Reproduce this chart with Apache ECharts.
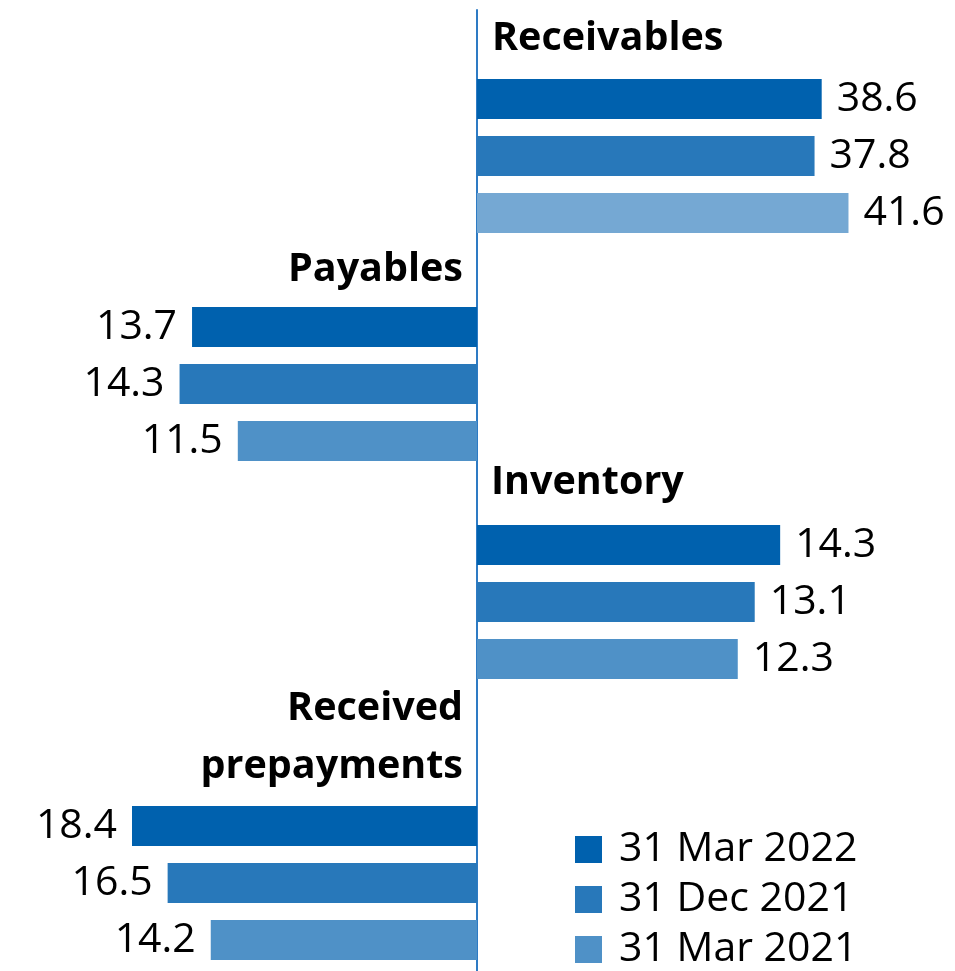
<!DOCTYPE html>
<html>
<head>
<meta charset="utf-8">
<script src="https://cdn.jsdelivr.net/npm/echarts@6/dist/echarts.min.js"></script>
<style>
  html, body { margin: 0; padding: 0; background: #ffffff; }
  #chart { width: 955px; height: 971px; }
</style>
</head>
<body>
<div id="chart"></div>
<script>
// Working-capital items, EUR bn
const categories = ['Receivables', 'Payables', 'Inventory', 'Received\nprepayments'];
const periods = ['31 Mar 2022', '31 Dec 2021', '31 Mar 2021'];
const mar2022 = [38.6, 13.7, 14.3, 18.4];
const dec2021 = [37.8, 14.3, 13.1, 16.5];
const mar2021 = [41.6, 11.5, 12.3, 14.2];
// +1: asset drawn to the right of the axis, -1: liability drawn to the left
const side = [1, -1, 1, -1];
const axisMax = [50, 20, 20, 20];

const seriesValues = [mar2022, dec2021, mar2021];

// layout
const axisX = 477;
const pxPerUnit = [8.93, 20.8, 21.2, 18.75];
const groupTop = [70.5, 298.5, 516.5, 797.5];
const bandH = 57;
const colors = ['#0061AE', '#2878BA', '#4F91C7'];
const colorsFirstGroup = ['#0061AE', '#2878BA', '#75A8D3'];
const FONT = '"Open Sans", "Liberation Sans", sans-serif';

const grid = [];
const xAxis = [];
const yAxis = [];
const series = [];

categories.forEach((cat, g) => {
  const width = pxPerUnit[g] * axisMax[g];
  const left = side[g] > 0 ? axisX : axisX - width;
  grid.push({ left: left, top: groupTop[g], width: width, height: bandH * periods.length });
  xAxis.push({
    type: 'value', gridIndex: g, min: 0, max: axisMax[g], inverse: side[g] < 0,
    show: false, splitLine: { show: false }
  });
  yAxis.push({
    type: 'category', gridIndex: g, data: periods, inverse: true, show: false
  });
  periods.forEach((p, s) => {
    const pal = g === 0 ? colorsFirstGroup : colors;
    series.push({
      type: 'bar',
      name: p,
      xAxisIndex: g,
      yAxisIndex: g,
      stack: 'group' + g,
      barWidth: 40,
      data: periods.map((_, k) => (k === s ? seriesValues[s][g] : '-')),
      itemStyle: { color: pal[s] },
      label: {
        show: true,
        position: side[g] > 0 ? 'right' : 'left',
        distance: 15,
        color: '#000000',
        fontFamily: FONT,
        fontSize: 41,
        formatter: (d) => Number(d.value).toFixed(1)
      },
      emphasis: { disabled: true },
      animation: false
    });
  });
});

// vertical axis through zero, spanning the full chart height
grid.push({ left: axisX, top: 10, bottom: 0, width: 1 });
xAxis.push({ type: 'value', gridIndex: 4, show: false });
yAxis.push({
  type: 'value', gridIndex: 4, min: 0, max: 1,
  axisLine: { show: true, lineStyle: { color: '#2E7BC4', width: 2 } },
  axisTick: { show: false }, axisLabel: { show: false }, splitLine: { show: false }
});

// group headings
const titlePos = [
  { left: 492, top: 15.7, align: 'left' },
  { left: 463, top: 246.7, align: 'right' },
  { left: 491, top: 459.7, align: 'left' },
  { left: 463, top: 679.7, align: 'right' }
];
const title = categories.map((cat, g) => ({
  text: cat,
  left: titlePos[g].left,
  top: titlePos[g].top,
  textAlign: titlePos[g].align,
  padding: 0,
  textStyle: {
    fontFamily: FONT, fontWeight: 'bold', fontSize: 39.5, lineHeight: g === 3 ? 58 : 46,
    color: '#000000'
  }
}));

const chart = echarts.init(document.getElementById('chart'), null, { renderer: 'canvas' });
chart.setOption({
  animation: false,
  backgroundColor: '#ffffff',
  title: title,
  grid: grid,
  xAxis: xAxis,
  yAxis: yAxis,
  legend: {
    orient: 'vertical',
    left: 575,
    top: 829,
    height: 160,
    padding: 0,
    itemWidth: 27,
    itemHeight: 27,
    itemGap: 9,
    icon: 'rect',
    selectedMode: false,
    data: periods.map((p, i) => ({ name: p, itemStyle: { color: colors[i] } })),
    textStyle: {
      fontFamily: FONT, fontSize: 41, lineHeight: 41, color: '#000000',
      padding: [0, 0, 0, 12]
    }
  },
  series: series
});
</script>
</body>
</html>
